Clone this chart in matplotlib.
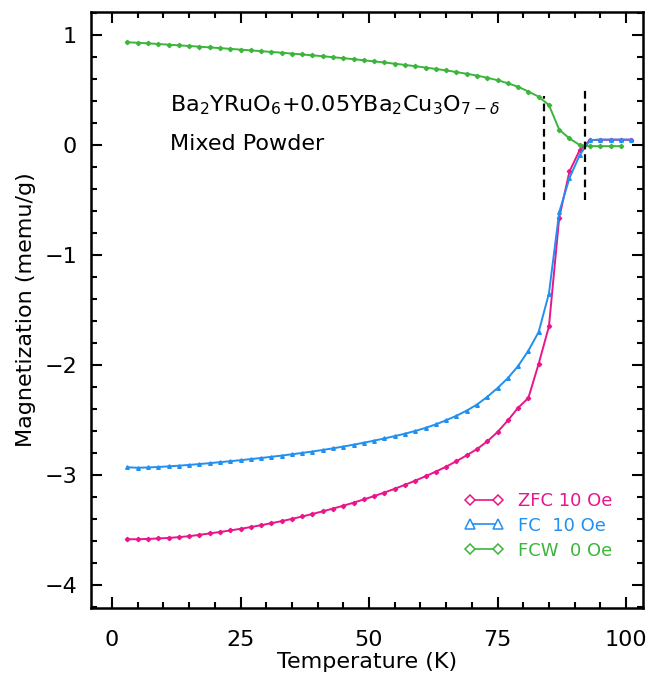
import matplotlib

matplotlib.use("Agg")
import matplotlib.pyplot as plt
from matplotlib.lines import Line2D
from matplotlib.ticker import MultipleLocator

# Measured M(T) for the mixed powder, temperature in K, magnetization in memu/g
temperature = [
    3, 5, 7, 9, 11, 13, 15, 17, 19, 21, 23, 25, 27, 29, 31, 33, 35, 37, 39, 41,
    43, 45, 47, 49, 51, 53, 55, 57, 59, 61, 63, 65, 67, 69, 71, 73, 75, 77, 79, 81,
    83, 85, 87, 89, 91, 93, 95, 97, 99, 101,
]
zfc_10oe = [
    -3.585, -3.585, -3.582, -3.578, -3.573, -3.566, -3.557, -3.545, -3.532, -3.519,
    -3.505, -3.490, -3.474, -3.457, -3.439, -3.420, -3.400, -3.378, -3.355, -3.331,
    -3.306, -3.280, -3.252, -3.223, -3.192, -3.160, -3.126, -3.090, -3.052, -3.012,
    -2.970, -2.925, -2.875, -2.822, -2.765, -2.695, -2.610, -2.505, -2.390, -2.300,
    -1.990, -1.650, -0.660, -0.240, -0.045, 0.045, 0.048, 0.048, 0.048, 0.048,
]
fc_10oe = [
    -2.930, -2.935, -2.932, -2.928, -2.922, -2.916, -2.909, -2.901, -2.893, -2.884,
    -2.875, -2.866, -2.856, -2.846, -2.835, -2.824, -2.812, -2.800, -2.787, -2.773,
    -2.758, -2.742, -2.725, -2.707, -2.688, -2.668, -2.647, -2.625, -2.600, -2.572,
    -2.540, -2.503, -2.462, -2.415, -2.360, -2.290, -2.210, -2.120, -2.010, -1.870,
    -1.700, -1.350, -0.610, -0.300, -0.090, 0.045, 0.050, 0.050, 0.050, 0.050,
]
temperature_fcw = temperature[:-1]
fcw_0oe = [
    0.935, 0.930, 0.925, 0.919, 0.913, 0.907, 0.901, 0.895, 0.888, 0.882,
    0.875, 0.868, 0.861, 0.854, 0.847, 0.840, 0.832, 0.824, 0.816, 0.808,
    0.799, 0.790, 0.781, 0.771, 0.761, 0.751, 0.740, 0.729, 0.717, 0.705,
    0.692, 0.679, 0.664, 0.648, 0.632, 0.612, 0.590, 0.562, 0.530, 0.487,
    0.440, 0.364, 0.140, 0.060, 0.000, -0.010, -0.010, -0.010, -0.010,
]

# Transition markers (dashed guides)
onset_T = [84, 92]
onset_lo = [-0.5, -0.5]
onset_hi = [0.45, 0.5]

PINK = "#E8168A"
BLUE = "#2190F0"
GREEN = "#3DB53D"

fig = plt.figure(figsize=(6.47, 6.75), dpi=100)
ax = fig.add_axes([0.1406, 0.0993, 0.8532, 0.8829])

ax.plot(temperature, zfc_10oe, color=PINK, lw=1.4, marker="D", ms=2.2)
ax.plot(temperature, fc_10oe, color=BLUE, lw=1.4, marker="^", ms=2.6)
ax.plot(temperature_fcw, fcw_0oe, color=GREEN, lw=1.4, marker="D", ms=2.2)

ax.vlines(onset_T, onset_lo, onset_hi, colors="black", linestyles=(0, (3.5, 2.2)), lw=1.6)

ax.text(0.143, 0.864, r"Ba$_2$YRuO$_6$+0.05YBa$_2$Cu$_3$O$_{7-\delta}$",
        transform=ax.transAxes, fontsize=16, va="top", ha="left")
ax.text(0.143, 0.796, "Mixed Powder",
        transform=ax.transAxes, fontsize=16, va="top", ha="left")

# Legend: open symbols at both ends, text in the series colour
handles = [
    Line2D([], [], color=PINK, lw=1.2, marker="D", ms=5.5, mfc="white", mew=1.1),
    Line2D([], [], color=BLUE, lw=1.2, marker="^", ms=6.5, mfc="white", mew=1.1),
    Line2D([], [], color=GREEN, lw=1.2, marker="D", ms=5.5, mfc="white", mew=1.1),
]
labels = ["ZFC 10 Oe", "FC  10 Oe", "FCW  0 Oe"]
ax.legend(handles, labels, loc="center left", bbox_to_anchor=(0.676, 0.138),
          frameon=False, numpoints=2, handlelength=2.2, handletextpad=0.8,
          labelspacing=0.38, borderpad=0, borderaxespad=0, fontsize=13,
          labelcolor="linecolor")

ax.set_xlim(-4.1, 103.3)
ax.set_ylim(-4.21, 1.21)
ax.set_xticks([0, 25, 50, 75, 100])
ax.set_yticks([-4, -3, -2, -1, 0, 1])
ax.xaxis.set_minor_locator(MultipleLocator(5))
ax.yaxis.set_minor_locator(MultipleLocator(0.2))
ax.tick_params(which="both", direction="in", top=True, right=True, width=1.5,
               labelsize=16, color="black")
ax.tick_params(which="major", length=8)
ax.tick_params(which="minor", length=4)
ax.tick_params(axis="x", pad=16)
ax.tick_params(axis="y", pad=10)
for side in ax.spines.values():
    side.set_linewidth(1.8)

ax.set_xlabel("Temperature (K)", fontsize=16, labelpad=1)
ax.set_ylabel("Magnetization (memu/g)", fontsize=16, labelpad=6)

fig.savefig("out.png", dpi=100)
